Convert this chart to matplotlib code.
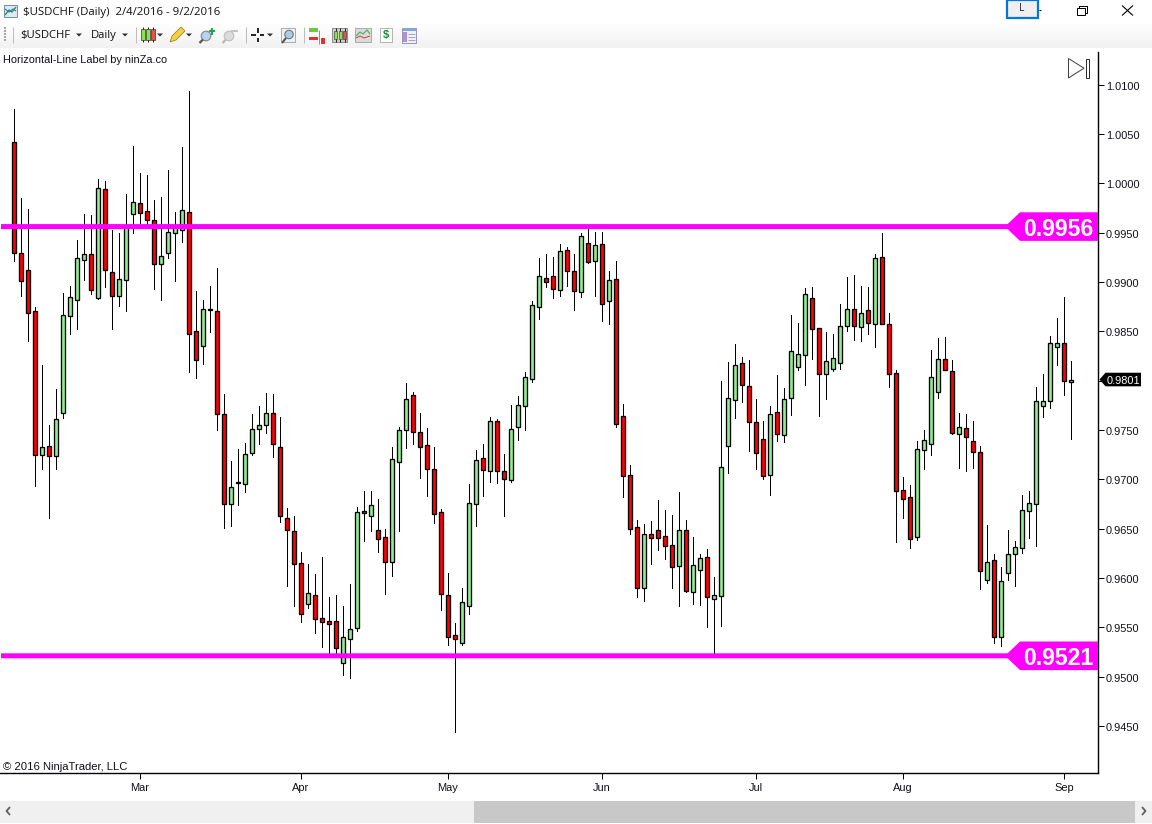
import matplotlib
matplotlib.use("Agg")
import matplotlib.pyplot as plt
import matplotlib.transforms as mtransforms
import numpy as np
from matplotlib.patches import Polygon, Rectangle, Circle

plt.rcParams['font.family'] = ['Liberation Sans', 'DejaVu Sans']

# ---------------- data ----------------
highs = [
1.0075,.9985,.9974,.9874,.9816,.9755,.9791,.9889,.9896,.9942,.9969,.9968,1.0004,1.0002,.9953,.9950,.9989,1.0038,1.0010,1.0008,
.9983,.9986,1.0013,.9971,1.0037,1.0093,.9891,.9882,.9896,.9914,.9786,.9718,.9731,.9737,.9766,.9774,.9787,.9786,.9763,.9671,
.9663,.9626,.9614,.9604,.9621,.9581,.9583,.9571,.9594,.9672,.9688,.9688,.9680,.9650,.9733,.9753,.9797,.9788,.9767,.9752,
.9733,.9670,.9605,.9554,.9590,.9695,.9730,.9736,.9763,.9761,.9726,.9775,.9784,.9809,.9881,.9924,.9928,.9925,.9938,.9935,
.9928,.9949,.9954,.9951,.9951,.9911,.9921,.9776,.9714,.9659,.9655,.9658,.9679,.9669,.9664,.9687,.9659,.9641,.9624,.9629,
.9601,.9800,.9819,.9837,.9824,.9821,.9781,.9759,.9774,.9806,.9792,.9866,.9858,.9894,.9895,.9853,.9849,.9847,.9878,.9905,
.9907,.9896,.9895,.9928,.9950,.9868,.9811,.9702,.9694,.9739,.9750,.9831,.9843,.9844,.9821,.9767,.9766,.9759,.9734,.9654,
.9624,.9611,.9649,.9637,.9684,.9688,.9793,.9807,.9845,.9863,.9885,.9820]
body_tops = [
1.0042,.9929,.9912,.9870,.9733,.9734,.9761,.9866,.9885,.9924,.9928,.9928,.9995,.9994,.9910,.9903,.9956,.9981,.9980,.9972,
.9963,.9926,.9951,.9957,.9973,.9971,.9850,.9872,.9872,.9870,.9766,.9692,.9697,.9726,.9751,.9755,.9767,.9767,.9733,.9661,
.9647,.9615,.9585,.9583,.9559,.9556,.9556,.9540,.9548,.9667,.9668,.9674,.9649,.9641,.9720,.9750,.9781,.9785,.9748,.9735,
.9710,.9667,.9583,.9542,.9576,.9676,.9719,.9721,.9759,.9759,.9708,.9751,.9775,.9804,.9877,.9906,.9904,.9906,.9931,.9932,
.9911,.9946,.9939,.9937,.9938,.9902,.9903,.9764,.9704,.9652,.9644,.9644,.9648,.9642,.9633,.9648,.9649,.9613,.9620,.9621,
.9583,.9712,.9782,.9816,.9818,.9794,.9758,.9741,.9766,.9768,.9781,.9830,.9827,.9888,.9884,.9853,.9820,.9823,.9855,.9872,
.9872,.9868,.9871,.9924,.9925,.9857,.9808,.9689,.9682,.9731,.9740,.9804,.9822,.9822,.9810,.9753,.9752,.9739,.9728,.9616,
.9618,.9597,.9624,.9631,.9669,.9676,.9779,.9779,.9838,.9838,.9838,.9801]
body_bottoms = [
.9929,.9901,.9868,.9724,.9724,.9723,.9723,.9767,.9865,.9882,.9922,.9892,.9884,.9912,.9886,.9886,.9902,.9969,.9970,.9963,
.9918,.9918,.9929,.9949,.9953,.9847,.9821,.9835,.9871,.9766,.9675,.9675,.9696,.9695,.9727,.9751,.9755,.9736,.9663,.9649,
.9614,.9563,.9574,.9558,.9555,.9553,.9529,.9514,.9538,.9549,.9666,.9663,.9639,.9616,.9616,.9717,.9750,.9748,.9733,.9710,
.9665,.9584,.9540,.9538,.9534,.9571,.9675,.9709,.9708,.9708,.9700,.9699,.9753,.9774,.9802,.9875,.9900,.9893,.9892,.9911,
.9891,.9890,.9920,.9921,.9878,.9881,.9756,.9703,.9650,.9590,.9590,.9640,.9640,.9632,.9611,.9612,.9587,.9586,.9608,.9581,
.9579,.9582,.9734,.9780,.9795,.9758,.9727,.9703,.9704,.9746,.9745,.9782,.9814,.9826,.9852,.9807,.9807,.9812,.9818,.9855,
.9855,.9854,.9858,.9857,.9857,.9807,.9688,.9680,.9639,.9641,.9730,.9736,.9788,.9811,.9747,.9746,.9743,.9728,.9607,.9598,
.9540,.9540,.9605,.9624,.9630,.9668,.9675,.9774,.9779,.9834,.9800,.9798]
lows = [
.9921,.9886,.9840,.9693,.9710,.9661,.9710,.9762,.9847,.9852,.9902,.9888,.9883,.9895,.9852,.9876,.9870,.9949,.9960,.9958,
.9893,.9882,.9924,.9901,.9940,.9809,.9803,.9817,.9849,.9750,.9651,.9653,.9674,.9687,.9724,.9736,.9747,.9722,.9657,.9592,
.9571,.9555,.9569,.9544,.9530,.9524,.9524,.9502,.9499,.9546,.9637,.9647,.9626,.9584,.9602,.9647,.9732,.9736,.9701,.9683,
.9656,.9567,.9532,.9444,.9532,.9563,.9653,.9683,.9697,.9696,.9663,.9697,.9740,.9750,.9798,.9862,.9895,.9884,.9886,.9896,
.9871,.9885,.9919,.9886,.9860,.9857,.9753,.9682,.9644,.9581,.9577,.9614,.9628,.9619,.9590,.9571,.9586,.9574,.9572,.9550,
.9524,.9551,.9706,.9762,.9778,.9729,.9710,.9700,.9684,.9739,.9738,.9765,.9811,.9795,.9822,.9764,.9781,.9810,.9812,.9850,
.9841,.9840,.9847,.9834,.9857,.9793,.9636,.9661,.9630,.9638,.9710,.9724,.9782,.9811,.9746,.9711,.9708,.9711,.9589,.9595,
.9534,.9531,.9598,.9592,.9625,.9640,.9632,.9763,.9772,.9816,.9785,.9741]
# R = close below open, G = close above open
directions = ("RRRRGRGGGG" "GRGRRGGGRR" "RGGGGRRGRR" "RGGGGGGRRR"
              "RRGRRRRGGG" "RGRRGGGRRR" "RRRRGGGRGR" "RGGGGGRRGR"
              "RGRGRGRRRR" "GRRRRGRGGR" "GGGGRRRRGR" "GGGGRRGGGG"
              "RGRGRRRRRG" "GGGRRGRRRG" "RGGGGGGGGGRG")
month_ticks = [18, 41, 62, 84, 106, 127, 150]
month_labels = ["Mar", "Apr", "May", "Jun", "Jul", "Aug", "Sep"]
price_ticks = [1.0100, 1.0050, 1.0000, 0.9950, 0.9900, 0.9850, 0.9800, 0.9750,
               0.9700, 0.9650, 0.9600, 0.9550, 0.9500, 0.9450]
levels = [0.9956, 0.9521]
last_price = 0.9801
# ---------------------------------------------------------------

W, H = 1152, 824
fig = plt.figure(figsize=(W / 100, H / 100), dpi=100, facecolor="white")
L, R, T, B = 0.0, 1098.0, 52.0, 773.0
ax = fig.add_axes([L / W, 1 - B / H, (R - L) / W, (B - T) / H])
ax.set_xlim((L - 14.0) / 7, (R - 14.0) / 7)
# pixel row 84.5 carries 1.0100, 9867 pixels per price unit
ax.set_ylim(1.01 - (B - 84.5) / 9867, 1.01 + (84.5 - T) / 9867)
px = 1.0 / 9867  # price per pixel

for s in ("left", "top"):
    ax.spines[s].set_visible(False)
ax.spines["right"].set_linewidth(1.0)
ax.spines["bottom"].set_linewidth(1.0)

ax.yaxis.tick_right()
ax.set_yticks(price_ticks)
ax.set_yticklabels([f"{p:.4f}" for p in price_ticks], fontsize=7.9, color="#101018")
ax.tick_params(axis="y", length=4.3, width=0.72, pad=1.4)
shift = mtransforms.ScaledTranslation(0, -1 / 100, fig.dpi_scale_trans)
for lbl in ax.get_yticklabels():
    lbl.set_transform(lbl.get_transform() + shift)
ax.set_xticks(month_ticks)
ax.set_xticklabels(month_labels, fontsize=7.9, color="#101018")
ax.tick_params(axis="x", length=4.3, width=0.72, pad=2.8)

n = len(highs)
xs = np.arange(n)
ups = np.array([d == "G" for d in directions[:n]])
hi, lo = np.array(highs), np.array(lows)
top, bot = np.array(body_tops), np.array(body_bottoms)
ax.vlines(xs, lo, hi, colors="black", linewidth=0.72, zorder=2, antialiased=False)
ax.bar(xs, top - bot, bottom=bot, width=4.0 / 7,
       color=np.where(ups, "#90EE90", "#FF0000"), edgecolor="black",
       linewidth=0.95, zorder=3)

magenta = "#FF00FF"
ytr = ax.get_yaxis_transform()
for lv in levels:
    ax.plot([1 / R, 1010 / R], [lv, lv], transform=ytr, color=magenta, lw=3.6,
            solid_capstyle="butt", zorder=5, snap=False)
    h = 14.3 * px
    ax.add_patch(Polygon([(1005 / R, lv), (1020 / R, lv + h), (1, lv + h), (1, lv - h),
                          (1020 / R, lv - h)], closed=True, transform=ytr,
                         facecolor=magenta, edgecolor="none", zorder=6))
    ax.text(1093 / R, lv - 0.5 * px, f"{lv:.4f}", transform=ytr, ha="right", va="center_baseline",
            color="white", fontweight="bold", fontsize=16.6, zorder=7)

# last-price marker
h2 = 6.8 * px
ly = last_price
ax.add_patch(Polygon([(1099.5 / R, ly), (1105.5 / R, ly + h2), (1141 / R, ly + h2),
                      (1141 / R, ly - h2), (1105.5 / R, ly - h2)], closed=True,
                     transform=ytr, facecolor="black", edgecolor="none", zorder=8,
                     clip_on=False))
ax.text(1107 / R, ly, f"{last_price:.4f}", transform=ytr, ha="left", va="center_baseline",
        color="white", fontsize=7.9, zorder=9, clip_on=False)

# ---------------- window chrome in pixel coordinates ----------------
cx = fig.add_axes([0, 0, 1, 1], zorder=10)
cx.set_xlim(0, W)
cx.set_ylim(H, 0)
cx.axis("off")
cx.patch.set_alpha(0)

def rect(x0, y0, x1, y1, fc, ec="none", lw=0.0, z=1):
    cx.add_patch(Rectangle((x0, y0), x1 - x0, y1 - y0, facecolor=fc, edgecolor=ec, linewidth=lw, zorder=z))

def seg(xa, ya, c="black", lw=0.72, z=3):
    cx.plot(xa, ya, color=c, lw=lw, solid_capstyle="butt", zorder=z)

def caret(x, y):
    cx.add_patch(Polygon([(x - 3, y - 1.5), (x + 3, y - 1.5), (x, y + 1.5)], closed=True, fc="#303030", ec="none", zorder=3))

# toolbar gradient
grad = np.linspace(1.0, 0.945, 40).reshape(-1, 1)
cx.imshow(grad, extent=(0, W, 48, 22), cmap="gray", vmin=0, vmax=1, aspect="auto", zorder=0)
cx.set_xlim(0, W)
cx.set_ylim(H, 0)

# title bar
rect(4, 5, 17, 17, "#DDE8F5", "#5A7FA8", 0.6)
seg([5, 9, 12, 16], [15, 10, 12, 7], "#2E9A3C", 1.0)
seg([5, 9, 13, 16], [9, 12, 9, 11], "#3A70C0", 0.8)
cx.text(23, 12, "$USDCHF (Daily)  2/4/2016 - 9/2/2016", fontsize=8.2, family="Open Sans",
        va="center", ha="left", color="#101010")

rect(1006.5, 0, 1037.5, 17.5, "#EFEFEF", "#0078D7", 1.6)
cx.text(1022, 8.5, "L", fontsize=7.4, family="Open Sans", ha="center", va="center", color="#202020")
seg([1039, 1041], [10, 10], "#000000")
rect(1076.5, 7.5, 1084.5, 15, "white", "black", 0.72, z=3)
seg([1079, 1079, 1086.5, 1086.5, 1084.5], [7.5, 5.5, 5.5, 13, 13], "black")
seg([1122, 1133], [5.5, 15.5], "black", 0.8)
seg([1122, 1133], [15.5, 5.5], "black", 0.8)

# toolbar
for yy in range(27, 42, 3):
    rect(3.5, yy, 5.5, yy + 1.6, "#A8A8A8")
seg([12.5, 12.5], [27, 43], "#BDBDBD")
cx.text(20, 35, "$USDCHF", fontsize=8.1, family="Open Sans", va="center", color="#101010")
caret(79, 35)
cx.text(91, 35, "Daily", fontsize=8.1, family="Open Sans", va="center", color="#101010")
caret(125, 35)
seg([135.5, 135.5], [27, 43], "#BDBDBD")
# candle icon
for x0, col in ((141, "#8CE04A"), (146, "#8CE04A"), (151, "#E8504A")):
    seg([x0 + 2, x0 + 2], [27, 42], "#222222")
    rect(x0, 29, x0 + 4, 40, col, "#333333", 0.5, z=4)
caret(160, 35)
# pencil
cx.add_patch(Polygon([(170, 42), (172, 36), (181, 27), (185, 31), (176, 40)], closed=True,
                     fc="#F4D03F", ec="#8A7A20", lw=0.5, zorder=3))
caret(189, 35)
# magnifiers
cx.add_patch(Circle((206, 36), 4.8, fc="#B7D3EE", ec="#808890", lw=0.8, zorder=3))
seg([203, 199.5], [39.5, 43], "#555555", 1.6)
seg([208.5, 215], [31, 31], "#19A84B", 1.5, z=4)
seg([211.7, 211.7], [27.5, 34.5], "#19A84B", 1.5, z=4)
cx.add_patch(Circle((229, 36), 4.8, fc="#DCDCDC", ec="#C0C0C0", lw=0.8, zorder=3))
seg([226, 222.5], [39.5, 43], "#B8B8B8", 1.6)
seg([231, 238], [31, 31], "#C4C4C4", 1.5, z=4)
seg([245.5, 245.5], [27, 43], "#BDBDBD")
# crosshair
seg([251, 255.5], [35, 35], "black", 1.2)
seg([259.5, 264], [35, 35], "black", 1.2)
seg([257.5, 257.5], [28, 32.5], "black", 1.2)
seg([257.5, 257.5], [37.5, 42], "black", 1.2)
caret(270, 35)
# zoom icon
rect(281, 28, 295, 42, "#F0F0F0", "#A0A0A0", 0.6)
cx.add_patch(Circle((289, 34.5), 4.2, fc="#A8CCEC", ec="#707880", lw=0.8, zorder=3))
seg([286, 282], [38, 43], "#555555", 1.5)
seg([303.5, 303.5], [27, 43], "#BDBDBD")
# bars icon
rect(309, 28, 318, 32, "#6CCB3C")
rect(309, 37, 318, 40, "#E03030")
seg([319, 319], [30, 44], "#909090")
rect(320.5, 38, 325, 44, "#E03030")
# candles icon
rect(332, 28, 347, 42, "#CFCFCF", "#808080", 0.6)
for x0, col in ((334, "#8CE04A"), (338.5, "#8CE04A"), (343, "#E8504A")):
    seg([x0 + 1.5, x0 + 1.5], [27.5, 42], "#222222", z=4)
    rect(x0, 31, x0 + 3, 39, col, "#333333", 0.4, z=5)
# line-chart icon
rect(355, 28, 371, 42, "#DADADA", "#A0A0A0", 0.6)
seg([356, 360, 363, 367, 370], [36, 32, 34, 30, 34], "#4CAF50", 0.8)
seg([356, 360, 364, 370], [38, 36, 38, 36], "#D04040", 0.7)
# $ doc
rect(380, 28, 392, 42, "white", "#A8A8A8", 0.6)
cx.text(386, 35.2, "$", fontsize=8.2, fontweight="bold", color="#1E8C3A", ha="center", va="center", zorder=4)
# table icon
rect(402, 27.5, 416, 42.5, "#EFEFF8", "#8888A8", 0.6)
rect(402.5, 28, 415.5, 31, "#7FA8D8", z=3)
rect(403, 32, 406.5, 42, "#B48CE0", z=3)
for yy in (34, 37, 40):
    seg([408, 415], [yy, yy], "#9A9AB0", 0.6)

# study label and copyright
cx.text(3, 60, "Horizontal-Line Label by ninZa.co", fontsize=7.9, va="center", color="#101018")
cx.text(3, 767, "© 2016 NinjaTrader, LLC", fontsize=8.1, va="center", color="#101018")

# end-of-chart button
cx.add_patch(Polygon([(1068.5, 58.5), (1068.5, 78), (1084, 68.2)], closed=True, fc="white", ec="#404040", lw=0.72, zorder=3))
rect(1085.5, 58.5, 1088.5, 78, "white", "#303030", 0.72, z=3)

# scrollbar
rect(0, 801, W, 822.7, "#F0F0F0")
rect(474, 801, 1135, 822.7, "#C8C8C8", z=2)
seg([10, 6.5, 10], [807, 811, 815], "#606060", 1.3)
seg([1142, 1145.5, 1142], [807, 811, 815], "#606060", 1.3)

fig.savefig("out.png", dpi=100)
